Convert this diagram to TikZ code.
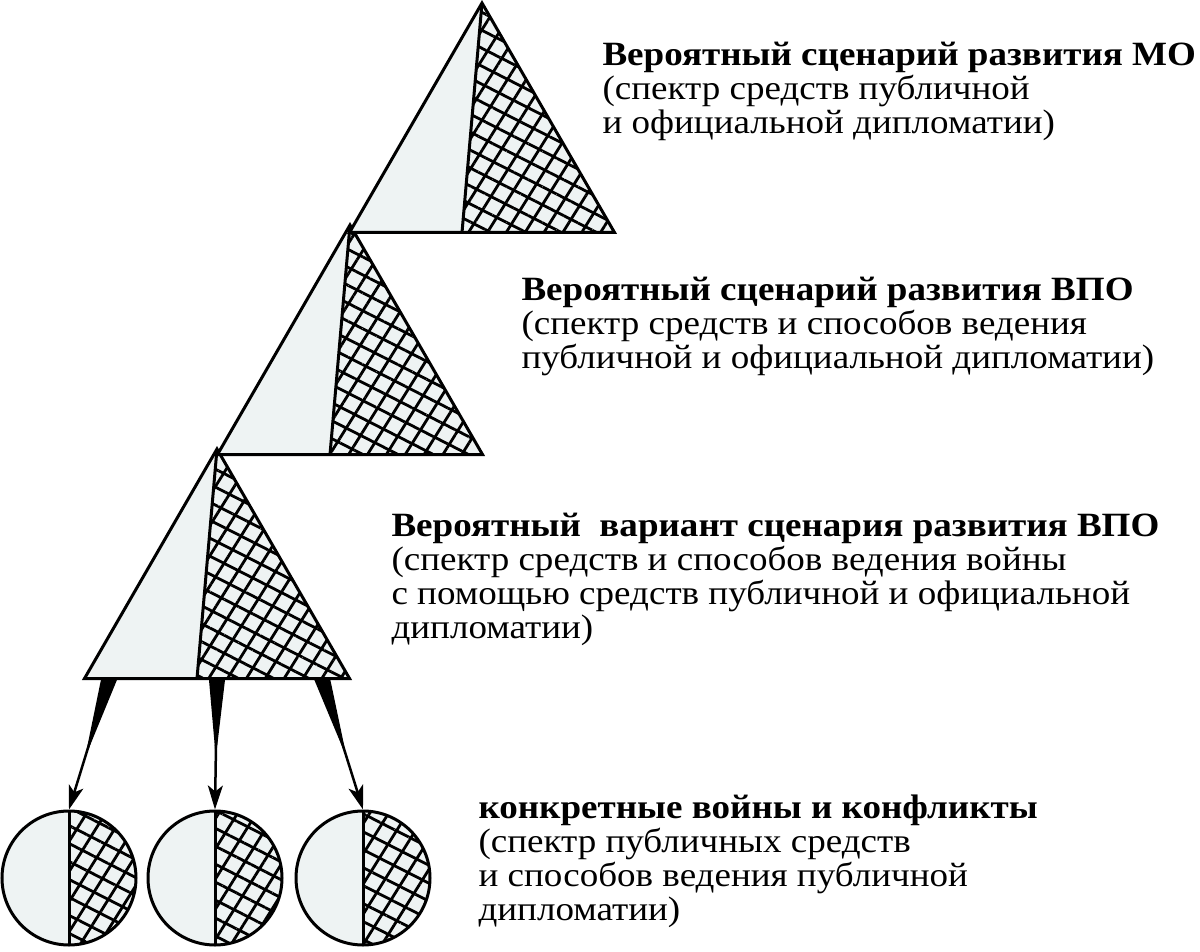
\documentclass[tikz,border=0pt]{standalone}
\usepackage{fontspec}
\setmainfont{Liberation Serif}[FakeStretch=1.09]
\usetikzlibrary{shapes.geometric,arrows.meta,patterns.meta,calc}
\definecolor{litefill}{RGB}{238,243,243}
\begin{document}
\begin{tikzpicture}[x=1pt, y=-1pt, line width=3pt,
    hatch/.style = {pattern={Lines[angle=58,distance=16pt,line width=2.8pt]},
      postaction={pattern={Lines[angle=-27,distance=16pt,line width=2.8pt]}}},
    tier/.style = {regular polygon, regular polygon sides=3,
      minimum size=306pt, inner sep=0pt, draw, fill=litefill,
      path picture={
        \fill[hatch] (path picture bounding box.north)
          -- ($(path picture bounding box.south)+(-20,0)$)
          -- (path picture bounding box.south east) -- cycle;
        \draw (path picture bounding box.north)
          -- ($(path picture bounding box.south)+(-20,0)$);}},
    war/.style = {circle, minimum size=134pt, inner sep=0pt,
      draw, fill=litefill,
      path picture={
        \fill[hatch] (path picture bounding box.north)
          rectangle (path picture bounding box.south east);
        \draw (path picture bounding box.north)
          -- (path picture bounding box.south);}},
    txt/.style = {anchor=base west, align=left, inner sep=0pt,
      font=\fontsize{34}{34}\selectfont}]
  \useasboundingbox (0,0) rectangle (1200,952);
  % levels, lowest first
  \node[tier] (t3) at (217,602) {};
  \node[tier] (t2) at (350,378) {};
  \node[tier] (t1) at (482,156) {};
  % wars and conflicts
  \node[war] (c1) at (69,878) {};
  \node[war] (c2) at (215,878) {};
  \node[war] (c3) at (363,878) {};
  \foreach \c/\p in {c1/0.1, c2/0.5, c3/0.89} {
    \coordinate (s) at ($(t3.corner 2)!\p!(t3.corner 3)$);
    \fill ($(s)+(-8,0)$) -- ($(s)+(8,0)$) -- ($(s)!0.6!(\c.north)$) -- cycle;
    \draw[line width=2.5pt, -{Stealth[length=24pt,width=15pt,inset=6pt]}]
      (s) -- (\c.north);
  }
  % labels (anchored at the last line)
  \node[txt] (l1) at (601,134) {\textbf{Вероятный сценарий развития МО}\\
    (спектр средств публичной\\и официальной дипломатии)};
  \node[txt] (l2) at (520,368) {\textbf{Вероятный сценарий развития ВПО}\\
    (спектр средств и способов ведения\\публичной и официальной дипломатии)};
  \node[txt] (l3) at (390,638) {\textbf{Вероятный\ \ вариант сценария развития ВПО}\\
    (спектр средств и способов ведения войны\\
    с помощью средств публичной и официальной\\дипломатии)};
  \node[txt] (l4) at (477,920) {\textbf{конкретные войны и конфликты}\\
    (спектр публичных средств\\и способов ведения публичной\\дипломатии)};
\end{tikzpicture}
\end{document}
